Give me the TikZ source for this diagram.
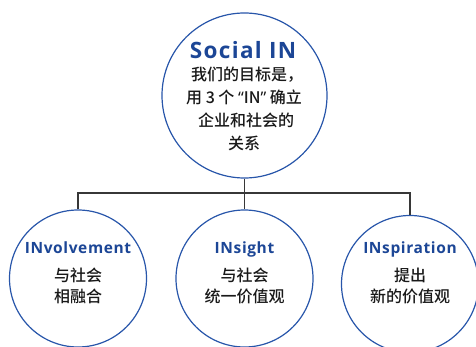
\documentclass[tikz,border=0pt]{standalone}
\usepackage{fontspec}
\setmainfont{Open Sans}
\newfontfamily\cjk{Noto Sans CJK SC}[UprightFont={* Medium}]
\newfontfamily\latb{Open Sans}[LetterSpace=4]
\newfontfamily\latbb{Open Sans}[LetterSpace=6]
\newfontfamily\quotefont{Noto Sans}
\definecolor{titleblue}{RGB}{28,70,150}
\definecolor{ringblue}{RGB}{40,86,170}
\definecolor{linegray}{RGB}{55,55,55}
\definecolor{txtgray}{RGB}{25,25,25}
\begin{document}
\begin{tikzpicture}[x=1pt,y=-1pt,
  ring/.style={circle,draw=ringblue,line width=1.2pt,inner sep=0pt,fill=white},
  title/.style={anchor=base,inner sep=0pt,text=titleblue,font=\latb\bfseries\fontsize{15.5}{18}\selectfont},
  bigtitle/.style={title,font=\latbb\bfseries\fontsize{22.5}{24}\selectfont},
  zh/.style={anchor=center,inner sep=0pt,text=txtgray,font=\cjk\fontsize{16}{18}\selectfont},
  link/.style={draw=linegray,line width=1.1pt}]
\useasboundingbox (0,0) rectangle (476,347);
\node[ring,minimum size=165pt] (top) at (244.5,95.5) {};
\node[ring,minimum size=137pt] (left) at (78,278.5) {};
\node[ring,minimum size=137pt] (mid) at (244.5,278.5) {};
\node[ring,minimum size=137pt] (right) at (410,284) {};
\coordinate (j) at (244.5,193);
\draw[link] (top.south) -- (j);
\draw[link] (j) -- (mid.north);
\draw[link] (left.north) |- (j) -| (right.north);
% top texts
\node[bigtitle] (t0) at (243,58.3) {Social IN};
\node[zh] (t1) at (247,75) {我们的目标是，};
\node[zh] (t2) at (244,97) {用 3 个 {\quotefont “}IN{\quotefont ”} 确立};
\node[zh] (t3) at (246,120.5) {企业和社会的};
\node[zh] (t4) at (244,143.5) {关系};
% left
\node[title] (l0) at (78,254) {INvolvement};
\node[zh] (l1) at (78,275.5) {与社会};
\node[zh] (l2) at (78,296.5) {相融合};
% mid
\node[title] (m0) at (244.5,254) {INsight};
\node[zh] (m1) at (244.5,275.5) {与社会};
\node[zh] (m2) at (244.5,296.5) {统一价值观};
% right
\node[title] (r0) at (410,254) {INspiration};
\node[zh] (r1) at (410,275.5) {提出};
\node[zh] (r2) at (410,296.5) {新的价值观};
\end{tikzpicture}
\end{document}
